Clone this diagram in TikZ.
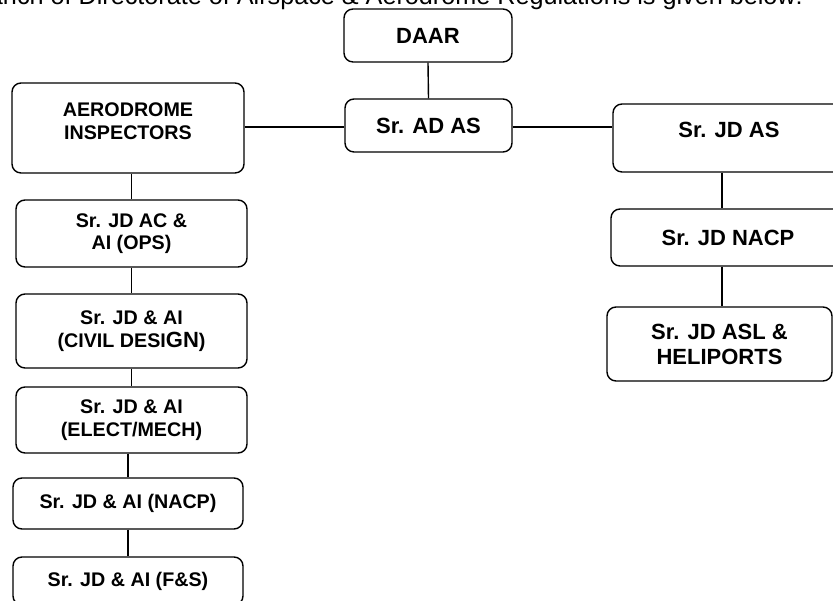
\documentclass[tikz,border=0pt]{standalone}
\usepackage{fontspec}
\setmainfont{Liberation Sans}
\begin{document}
\begin{tikzpicture}[x=1pt,y=1pt,
  box/.style={draw, line width=1.4pt, rounded corners=9pt, inner sep=0pt, align=center,
    font=\bfseries\fontsize{19.7}{22.5}\selectfont},
  bigbox/.style={box, font=\bfseries\fontsize{22}{25}\selectfont},
  lbl/.style={inner sep=0pt, align=center},
  conn/.style={line width=1.4pt}]
\useasboundingbox (0,0) rectangle (833,601);
\clip (0,0) rectangle (833,601);
% heading (cut off at the top)
\node[inner sep=0pt, anchor=base east, font=\fontsize{25.2}{30}\selectfont] (head) at (803,596)
  {Branch of Directorate of Airspace \& Aerodrome Regulations is given below:};
% centre column
\node[bigbox, minimum width=168, minimum height=53] (daar) at (428,565.5) {DAAR};
\node[bigbox, minimum width=167, minimum height=53] (adas) at (428.5,475.5) {Sr. AD AS};
% left column
\node[box, minimum width=232, minimum height=90] (aero) at (128,473) {};
\node[lbl, font=\bfseries\fontsize{19.7}{22.5}\selectfont] (aerot) at ([yshift=7]aero.center) {AERODROME\\INSPECTORS};
\node[box, minimum width=231, minimum height=67] (ops) at (131.5,367.5) {Sr. JD AC \&\\AI (OPS)};
\node[box, minimum width=231, minimum height=74] (civil) at (131.5,270) {Sr. JD \& AI\\(CIVIL DESI{\fontsize{22}{25}\selectfont GN})};
\node[box, minimum width=231, minimum height=66] (elect) at (131.5,181) {Sr. JD \& AI\\(ELECT/MECH)};
\node[box, minimum width=230, minimum height=51] (nacpl) at (128,97.5) {Sr. JD \& AI (NACP)};
\node[box, minimum width=230, minimum height=48] (fs) at (128,20) {Sr. JD \& AI (F\&S)};
% right column
\node[bigbox, minimum width=232, minimum height=68] (jdas) at (729,463) {};
\node[lbl, font=\bfseries\fontsize{22}{25}\selectfont] (jdast) at ([yshift=8]jdas.center) {Sr. JD AS};
\node[bigbox, minimum width=234, minimum height=57] (nacpr) at (728,363.5) {Sr. JD NACP};
\node[bigbox, minimum width=225, minimum height=74] (asl) at (719.5,257) {Sr. JD ASL \&\\HELIPORTS};
% connectors
\coordinate (hy) at (0,474);
\coordinate (rx) at (722,0);
\draw[conn] (daar.south) -- (adas.north);
\draw[conn] (aero.east |- hy) -- (adas.west |- hy);
\draw[conn] (adas.east |- hy) -- (jdas.west |- hy);
\draw[conn] (aero.south -| ops.north) -- (ops.north);
\draw[conn] (ops.south) -- (civil.north);
\draw[conn] (civil.south) -- (elect.north);
\draw[conn] (elect.south -| nacpl.north) -- (nacpl.north);
\draw[conn] (nacpl.south) -- (fs.north);
\draw[conn] (jdas.south -| rx) -- (nacpr.north -| rx);
\draw[conn] (nacpr.south -| rx) -- (asl.north -| rx);
\end{tikzpicture}
\end{document}
